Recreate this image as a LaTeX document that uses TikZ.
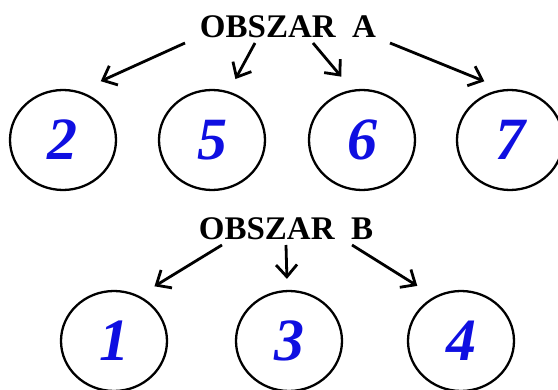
\documentclass[tikz,border=0pt]{standalone}
\usepackage{fontspec}
\setmainfont{Liberation Serif}
\usetikzlibrary{arrows.meta}
\usetikzlibrary{calc}
\usetikzlibrary{shapes.geometric}

\definecolor{digitblue}{RGB}{15,15,225}

\begin{document}
\begin{tikzpicture}[x=1pt,y=-1pt,
    area/.style={ellipse,draw,line width=2.3pt,minimum width=106pt,minimum height=100pt,
      inner sep=0pt,text=digitblue,font=\fontsize{60}{60}\selectfont\bfseries\itshape},
    title/.style={anchor=south,inner xsep=0pt,inner ysep=5pt,
      font=\fontsize{33}{33}\selectfont\bfseries}]
  \useasboundingbox (0,0) rectangle (558,390);

  % obszar A
  \node [title] (titleA) at (288,43) {OBSZAR\ \ A};
  \node [area] (n2) at (63,140)  {2};
  \node [area] (n5) at (212,140) {5};
  \node [area] (n6) at (362,140) {6};
  \node [area] (n7) at (510,140) {7};

  % obszar B
  \node [title] (titleB) at (286,245) {OBSZAR\ \ B};
  \node [area] (n1) at (114,341) {1};
  \node [area] (n3) at (289,341) {3};
  \node [area] (n4) at (461,341) {4};

  \path [line width=2.8pt,-{Straight Barb[length=12pt,width=21pt]}]
    ($(titleA.south)+(-103,0)$) edge [shorten >=24pt] (n2.72)
    ($(titleA.south)+(-33,0)$)  edge [shorten >=14pt] (n5.71)
    ($(titleA.south)+(25,0)$)   edge [shorten >=17pt] (n6.101)
    ($(titleA.south)+(102,0)$)  edge [shorten >=21pt] (n7.97)
    ($(titleB.south)+(-64,0)$)  edge [shorten >=18pt] (n1.61)
    (titleB.south)              edge [shorten >=11pt] (n3.92)
    ($(titleB.south)+(66,0)$)   edge [shorten >=20pt] (n4.121);

\end{tikzpicture}
\end{document}
